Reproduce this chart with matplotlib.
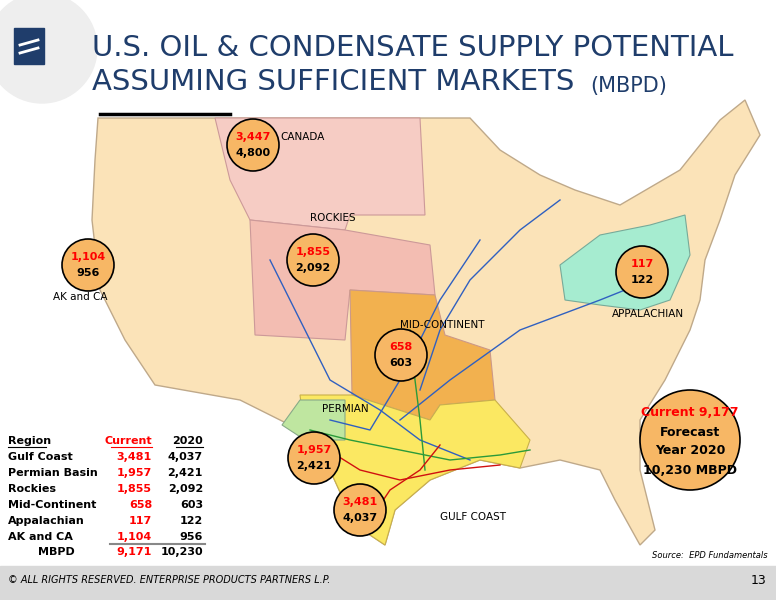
import matplotlib.pyplot as plt
from matplotlib.patches import Polygon, Circle, Rectangle

regions = ["Gulf Coast", "Permian Basin", "Rockies", "Mid-Continent", "Appalachian", "AK and CA"]
current = ["3,481", "1,957", "1,855", "658", "117", "1,104"]
year2020 = ["4,037", "2,421", "2,092", "603", "122", "956"]
total_current = "9,171"
total_2020 = "10,230"

bubble_names = ["CANADA", "AK and CA", "ROCKIES", "MID-CONTINENT", "APPALACHIAN", "PERMIAN", "GULF COAST"]
bubble_cur = ["3,447", "1,104", "1,855", "658", "117", "1,957", "3,481"]
bubble_fut = ["4,800", "956", "2,092", "603", "122", "2,421", "4,037"]
bubble_xy = [(253, 145), (88, 265), (313, 260), (401, 355), (642, 272), (314, 458), (360, 510)]
label_xy = [(280, 137), (80, 297), (310, 218), (400, 325), (612, 314), (322, 409), (440, 517)]

fig = plt.figure(figsize=(7.76, 6.0), dpi=100)
ax = fig.add_axes([0, 0, 1, 1])
ax.set_xlim(0, 776)
ax.set_ylim(600, 0)
ax.axis("off")

# header
ax.add_patch(Circle((42, 48), 55, color="#eeeeee", zorder=0))
ax.add_patch(Rectangle((14, 28), 30, 36, color="#1f3d6b", zorder=1))
ax.plot([20, 38], [45, 40], color="white", lw=2)
ax.plot([20, 38], [53, 48], color="white", lw=2)
ax.text(92, 48, "U.S. OIL & CONDENSATE SUPPLY POTENTIAL", fontsize=21, color="#1f3d6b", va="center")
ax.text(92, 82, "ASSUMING SUFFICIENT MARKETS", fontsize=21, color="#1f3d6b", va="center")
ax.text(590, 86, "(MBPD)", fontsize=15, color="#1f3d6b", va="center")
ax.plot([100, 230], [114, 114], color="black", lw=2.5)

# simplified map
us = [(98, 118), (470, 118), (500, 150), (540, 175), (575, 190), (620, 205), (680, 170), (720, 120),
      (745, 100), (760, 135), (735, 175), (720, 220), (705, 260), (700, 300), (690, 330), (665, 380),
      (640, 420), (640, 470), (655, 530), (640, 545), (615, 500), (600, 470), (560, 460), (520, 468),
      (480, 460), (430, 480), (395, 510), (385, 545), (355, 525), (330, 470), (305, 435), (290, 425),
      (240, 400), (155, 385), (125, 340), (100, 290), (92, 220), (95, 160)]
ax.add_patch(Polygon(us, closed=True, fc="#fbe3b8", ec="#bfa98a", lw=1, zorder=1))
ax.add_patch(Polygon([(215, 118), (420, 118), (425, 215), (350, 215), (345, 230), (250, 220), (230, 180)],
                     fc="#f6ccc4", ec="#c99", lw=0.8, zorder=2))
ax.add_patch(Polygon([(250, 220), (345, 230), (430, 245), (435, 295), (350, 290), (345, 340), (255, 335)],
                     fc="#f3bdb2", ec="#c99", lw=0.8, zorder=2))
ax.add_patch(Polygon([(350, 290), (435, 295), (445, 335), (490, 350), (495, 400), (440, 405), (430, 420),
                      (352, 395)], fc="#f2b14f", ec="#c98", lw=0.8, zorder=2))
ax.add_patch(Polygon([(300, 395), (352, 395), (430, 420), (440, 405), (495, 400), (530, 440), (520, 468),
                      (480, 460), (430, 480), (395, 510), (385, 545), (355, 525), (330, 470), (305, 435)],
                     fc="#fbe862", ec="#c9b04a", lw=0.8, zorder=2))
ax.add_patch(Polygon([(282, 425), (300, 400), (345, 400), (345, 440), (305, 440)],
                     fc="#bfe6a0", ec="#8a8", lw=0.8, zorder=3))
ax.add_patch(Polygon([(560, 265), (600, 235), (650, 225), (685, 215), (690, 255), (670, 300), (640, 310),
                      (600, 305), (565, 300)], fc="#a6ecd0", ec="#7a9", lw=0.8, zorder=2))

# pipelines (schematic)
for xs, ys, c in [
    ([270, 300, 330, 380, 420, 470], [260, 320, 380, 410, 440, 460], "#3060c0"),
    ([420, 440, 470, 520, 560], [390, 330, 280, 230, 200], "#3060c0"),
    ([400, 450, 520, 600, 650], [420, 380, 330, 300, 280], "#3060c0"),
    ([330, 370, 400, 440, 480], [420, 430, 380, 300, 240], "#3060c0"),
    ([310, 350, 400, 450, 500, 530], [430, 440, 450, 460, 455, 450], "#2a9a3a"),
    ([410, 415, 420, 425], [330, 380, 420, 470], "#2a9a3a"),
    ([320, 360, 400, 450, 500], [445, 470, 480, 470, 465], "#d01010"),
    ([370, 390, 420, 440], [520, 490, 470, 445], "#d01010"),
]:
    ax.plot(xs, ys, color=c, lw=1, zorder=4)

# bubbles
for (x, y), cur, fut in zip(bubble_xy, bubble_cur, bubble_fut):
    ax.add_patch(Circle((x, y), 26, fc="#f7b765", ec="black", lw=1.2, zorder=5))
    ax.text(x, y - 8, cur, color="red", fontsize=8, ha="center", va="center", fontweight="bold", zorder=6)
    ax.text(x, y + 8, fut, color="black", fontsize=8, ha="center", va="center", fontweight="bold", zorder=6)
for (x, y), n in zip(label_xy, bubble_names):
    ax.text(x, y, n, fontsize=7.5, ha="left" if n != "AK and CA" else "center", va="center", zorder=6)

ax.add_patch(Circle((690, 440), 50, fc="#f7b765", ec="black", lw=1.2, zorder=5))
ax.text(690, 413, "Current 9,177", color="red", fontsize=9, ha="center", va="center", fontweight="bold", zorder=6)
for i, t in enumerate(["Forecast", "Year 2020", "10,230 MBPD"]):
    ax.text(690, 432 + 19 * i, t, fontsize=9, ha="center", va="center", fontweight="bold", zorder=6)

# table
ax.text(8, 441, "Region", fontsize=8, fontweight="bold", va="center")
ax.plot([8, 46], [447, 447], color="black", lw=0.8)
ax.text(152, 441, "Current", fontsize=8, fontweight="bold", color="red", ha="right", va="center")
ax.plot([111, 152], [447, 447], color="red", lw=0.8)
ax.text(203, 441, "2020", fontsize=8, fontweight="bold", ha="right", va="center")
ax.plot([176, 203], [447, 447], color="black", lw=0.8)
for i, (r, c, f) in enumerate(zip(regions, current, year2020)):
    y = 457 + 16 * i
    ax.text(8, y, r, fontsize=8, fontweight="bold", va="center")
    ax.text(152, y, c, fontsize=8, fontweight="bold", color="red", ha="right", va="center")
    ax.text(203, y, f, fontsize=8, fontweight="bold", ha="right", va="center")
ax.plot([110, 205], [544, 544], color="#888888", lw=1.5)
ax.text(38, 552, "MBPD", fontsize=8, fontweight="bold", va="center")
ax.text(152, 552, total_current, fontsize=8, fontweight="bold", color="red", ha="right", va="center")
ax.text(203, 552, total_2020, fontsize=8, fontweight="bold", ha="right", va="center")

ax.text(768, 556, "Source:  EPD Fundamentals", fontsize=6, style="italic", ha="right", va="center")

# footer
ax.add_patch(Rectangle((0, 566), 776, 34, color="#d9d9d9", zorder=0))
ax.text(8, 580, "© ALL RIGHTS RESERVED. ENTERPRISE PRODUCTS PARTNERS L.P.", fontsize=7, style="italic", va="center")
ax.text(766, 580, "13", fontsize=9, ha="right", va="center")

fig.savefig("out.png", dpi=100)
